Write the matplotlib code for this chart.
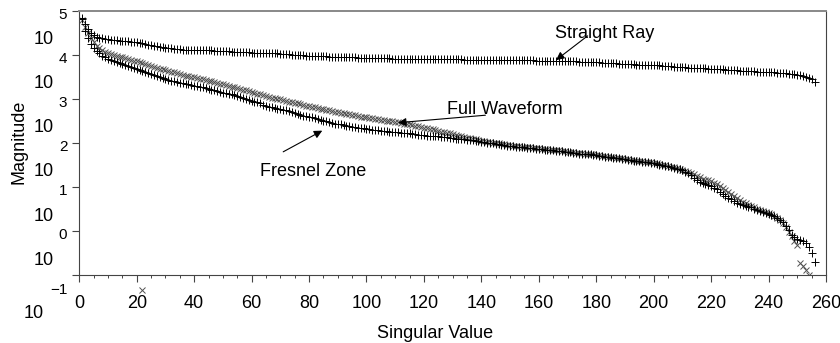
import numpy as np
import matplotlib
matplotlib.use('Agg')
import matplotlib.pyplot as plt
from matplotlib.ticker import MultipleLocator, NullLocator

plt.rcParams['font.family'] = ['Liberation Sans', 'DejaVu Sans']

# log10 of the singular values, index 1..N
straight_ray = [
    4.84, 4.70, 4.58, 4.50, 4.44, 4.41, 4.39, 4.37, 4.36, 4.35,
    4.34, 4.34, 4.33, 4.32, 4.32, 4.31, 4.31, 4.30, 4.29, 4.28,
    4.27, 4.26, 4.24, 4.23, 4.22, 4.20, 4.19, 4.18, 4.17, 4.16,
    4.15, 4.15, 4.14, 4.13, 4.13, 4.12, 4.12, 4.12, 4.11, 4.11,
    4.11, 4.11, 4.11, 4.10, 4.10, 4.10, 4.09, 4.09, 4.09, 4.08,
    4.08, 4.08, 4.07, 4.07, 4.07, 4.06, 4.06, 4.06, 4.06, 4.05,
    4.05, 4.05, 4.05, 4.04, 4.04, 4.04, 4.04, 4.03, 4.03, 4.02,
    4.02, 4.01, 4.01, 4.00, 4.00, 3.99, 3.99, 3.99, 3.98, 3.98,
    3.98, 3.98, 3.97, 3.97, 3.97, 3.97, 3.96, 3.96, 3.96, 3.95,
    3.95, 3.95, 3.94, 3.94, 3.94, 3.94, 3.93, 3.93, 3.93, 3.93,
    3.93, 3.92, 3.92, 3.92, 3.92, 3.92, 3.92, 3.92, 3.91, 3.91,
    3.91, 3.91, 3.91, 3.91, 3.91, 3.91, 3.91, 3.91, 3.91, 3.91,
    3.91, 3.90, 3.90, 3.90, 3.90, 3.90, 3.90, 3.90, 3.90, 3.90,
    3.90, 3.90, 3.90, 3.89, 3.89, 3.89, 3.89, 3.89, 3.89, 3.89,
    3.89, 3.89, 3.89, 3.89, 3.89, 3.88, 3.88, 3.88, 3.88, 3.88,
    3.88, 3.88, 3.88, 3.88, 3.88, 3.88, 3.88, 3.88, 3.87, 3.87,
    3.87, 3.87, 3.87, 3.87, 3.86, 3.86, 3.86, 3.86, 3.85, 3.85,
    3.85, 3.85, 3.85, 3.84, 3.84, 3.84, 3.84, 3.83, 3.83, 3.83,
    3.83, 3.82, 3.82, 3.82, 3.81, 3.81, 3.81, 3.80, 3.80, 3.80,
    3.79, 3.79, 3.79, 3.78, 3.78, 3.78, 3.78, 3.77, 3.77, 3.77,
    3.76, 3.76, 3.75, 3.75, 3.74, 3.74, 3.73, 3.73, 3.72, 3.72,
    3.72, 3.71, 3.71, 3.70, 3.70, 3.70, 3.69, 3.69, 3.68, 3.68,
    3.68, 3.67, 3.67, 3.67, 3.66, 3.66, 3.65, 3.65, 3.65, 3.64,
    3.64, 3.64, 3.63, 3.63, 3.63, 3.62, 3.62, 3.61, 3.61, 3.60,
    3.60, 3.60, 3.59, 3.59, 3.58, 3.58, 3.57, 3.57, 3.56, 3.55,
    3.54, 3.52, 3.50, 3.47, 3.44, 3.39,
]

full_waveform = [
    4.80, 4.62, 4.50, 4.38, 4.28, 4.20, 4.15, 4.11, 4.07, 4.04,
    4.02, 4.00, 3.98, 3.96, 3.94, 3.92, 3.90, 3.89, 3.87, 3.85,
    3.83, 3.81, 3.79, 3.77, 3.74, 3.72, 3.70, 3.68, 3.67, 3.65,
    3.63, 3.61, 3.60, 3.58, 3.56, 3.55, 3.53, 3.52, 3.50, 3.49,
    3.47, 3.46, 3.45, 3.43, 3.41, 3.40, 3.38, 3.36, 3.34, 3.33,
    3.31, 3.30, 3.28, 3.27, 3.25, 3.23, 3.21, 3.20, 3.18, 3.16,
    3.14, 3.12, 3.10, 3.08, 3.07, 3.05, 3.03, 3.02, 3.00, 2.99,
    2.97, 2.96, 2.94, 2.93, 2.91, 2.90, 2.88, 2.87, 2.85, 2.84,
    2.82, 2.81, 2.79, 2.78, 2.77, 2.75, 2.74, 2.72, 2.71, 2.70,
    2.69, 2.67, 2.66, 2.65, 2.64, 2.63, 2.62, 2.60, 2.59, 2.58,
    2.57, 2.56, 2.55, 2.54, 2.53, 2.52, 2.51, 2.50, 2.49, 2.48,
    2.47, 2.46, 2.44, 2.43, 2.42, 2.40, 2.39, 2.38, 2.36, 2.35,
    2.34, 2.32, 2.31, 2.29, 2.28, 2.26, 2.25, 2.23, 2.22, 2.20,
    2.18, 2.17, 2.15, 2.14, 2.12, 2.11, 2.09, 2.08, 2.06, 2.05,
    2.04, 2.03, 2.02, 2.01, 2.00, 1.99, 1.98, 1.97, 1.96, 1.95,
    1.94, 1.93, 1.93, 1.92, 1.91, 1.91, 1.90, 1.89, 1.88, 1.88,
    1.87, 1.86, 1.86, 1.85, 1.84, 1.83, 1.83, 1.82, 1.81, 1.80,
    1.80, 1.79, 1.78, 1.78, 1.77, 1.76, 1.75, 1.75, 1.74, 1.73,
    1.72, 1.71, 1.70, 1.69, 1.69, 1.68, 1.67, 1.66, 1.65, 1.64,
    1.63, 1.62, 1.61, 1.60, 1.60, 1.59, 1.58, 1.57, 1.56, 1.55,
    1.54, 1.52, 1.51, 1.49, 1.48, 1.46, 1.45, 1.43, 1.41, 1.39,
    1.37, 1.35, 1.32, 1.29, 1.25, 1.22, 1.19, 1.17, 1.15, 1.13,
    1.10, 1.07, 1.03, 0.99, 0.94, 0.89, 0.85, 0.80, 0.75, 0.70,
    0.66, 0.63, 0.60, 0.57, 0.54, 0.51, 0.48, 0.46, 0.43, 0.41,
    0.38, 0.35, 0.31, 0.26, 0.18, 0.10, -0.02, -0.12, -0.22, -0.31,
    -0.73, -0.80, -0.88, -0.99,
]

fresnel_zone = [
    4.82, 4.55, 4.38, 4.25, 4.15, 4.08, 4.03, 3.98, 3.94, 3.90,
    3.88, 3.86, 3.84, 3.82, 3.79, 3.77, 3.75, 3.73, 3.70, 3.68,
    3.66, 3.63, 3.61, 3.58, 3.56, 3.54, 3.52, 3.49, 3.47, 3.45,
    3.43, 3.41, 3.40, 3.38, 3.37, 3.35, 3.34, 3.33, 3.31, 3.30,
    3.29, 3.28, 3.27, 3.25, 3.23, 3.21, 3.20, 3.18, 3.16, 3.14,
    3.13, 3.11, 3.10, 3.08, 3.06, 3.04, 3.02, 3.00, 2.98, 2.96,
    2.94, 2.92, 2.90, 2.87, 2.85, 2.82, 2.81, 2.79, 2.78, 2.76,
    2.75, 2.74, 2.72, 2.70, 2.68, 2.66, 2.64, 2.62, 2.61, 2.59,
    2.58, 2.56, 2.54, 2.52, 2.51, 2.49, 2.47, 2.46, 2.44, 2.43,
    2.42, 2.40, 2.39, 2.38, 2.37, 2.36, 2.35, 2.34, 2.33, 2.32,
    2.31, 2.30, 2.30, 2.29, 2.28, 2.28, 2.27, 2.26, 2.25, 2.25,
    2.24, 2.23, 2.23, 2.22, 2.22, 2.21, 2.20, 2.19, 2.19, 2.18,
    2.17, 2.17, 2.16, 2.15, 2.15, 2.14, 2.13, 2.13, 2.12, 2.11,
    2.10, 2.10, 2.09, 2.08, 2.07, 2.07, 2.06, 2.05, 2.04, 2.03,
    2.02, 2.01, 2.00, 1.99, 1.98, 1.97, 1.96, 1.95, 1.94, 1.93,
    1.93, 1.92, 1.91, 1.91, 1.90, 1.89, 1.88, 1.88, 1.87, 1.86,
    1.86, 1.85, 1.84, 1.84, 1.83, 1.82, 1.81, 1.81, 1.80, 1.79,
    1.79, 1.78, 1.77, 1.76, 1.76, 1.75, 1.74, 1.74, 1.73, 1.72,
    1.71, 1.70, 1.69, 1.69, 1.68, 1.67, 1.66, 1.65, 1.64, 1.63,
    1.62, 1.61, 1.60, 1.60, 1.59, 1.58, 1.57, 1.56, 1.55, 1.54,
    1.53, 1.51, 1.50, 1.48, 1.47, 1.45, 1.44, 1.42, 1.40, 1.38,
    1.35, 1.31, 1.27, 1.21, 1.16, 1.12, 1.09, 1.07, 1.05, 1.02,
    0.99, 0.95, 0.90, 0.85, 0.80, 0.76, 0.72, 0.68, 0.65, 0.62,
    0.60, 0.58, 0.56, 0.54, 0.51, 0.49, 0.46, 0.44, 0.42, 0.40,
    0.37, 0.34, 0.31, 0.26, 0.20, 0.12, 0.02, -0.08, -0.13, -0.17,
    -0.20, -0.23, -0.26, -0.35, -0.50, -0.70,
]

# lone full-waveform point that lands below the axis
stray_index = [22]
stray_value = [-1.33]

decades = [5, 4, 3, 2, 1, 0, -1]
xticks = list(range(0, 261, 20))


def idx(vals):
    return np.arange(1, len(vals) + 1)


fig = plt.figure(figsize=(8.4, 3.43), dpi=100)
ax = fig.add_axes([79.3 / 840, 1 - 275.3 / 343, (826 - 79.3) / 840, (275.3 - 10.7) / 343])

ax.plot(idx(full_waveform), np.power(10.0, full_waveform), ls='none', marker='x',
        ms=4.5, mew=0.7, color='#505050')
ax.plot(stray_index, np.power(10.0, stray_value), ls='none', marker='x',
        ms=4.5, mew=0.7, color='#505050', clip_on=False)
ax.plot(idx(fresnel_zone), np.power(10.0, fresnel_zone), ls='none', marker='+',
        ms=5.5, mew=0.7, color='black')
ax.plot(idx(straight_ray), np.power(10.0, straight_ray), ls='none', marker='+',
        ms=5.5, mew=0.7, color='black')

ax.set_yscale('log')
ax.set_xlim(0, 260)
ax.set_ylim(10.0 ** -1, 10.0 ** 5)

ax.set_xticks(xticks)
ax.xaxis.set_minor_locator(MultipleLocator(5))
ax.set_yticks([10.0 ** k for k in decades])
ax.yaxis.set_minor_locator(NullLocator())
ax.tick_params(axis='x', which='major', length=5, width=0.8, color='#444',
               labelsize=13, pad=9)
ax.tick_params(axis='x', which='minor', length=2.5, width=0.7, color='#444')
ax.tick_params(axis='y', which='major', length=5, width=0.8, color='#444',
               labelleft=False)

for side in ['left', 'bottom', 'right']:
    ax.spines[side].set_color('#444')
    ax.spines[side].set_linewidth(0.8)
ax.spines['top'].set_color('#888')
ax.spines['top'].set_linewidth(1.4)

# broken "10^k" labels: exponent beside the tick, base below it
for k in decades:
    dy_exp = -15 if k == -1 else -4
    dy_base = -38 if k == -1 else -29
    dx_base = -36 if k == -1 else -26
    ax.annotate(str(k).replace('-', '\u2212'), xy=(0, 10.0 ** k),
                xycoords=('axes fraction', 'data'), xytext=(-12, dy_exp),
                textcoords='offset pixels', ha='right', va='center',
                fontsize=11, annotation_clip=False)
    ax.annotate('10', xy=(0, 10.0 ** k), xycoords=('axes fraction', 'data'),
                xytext=(dx_base, dy_base), textcoords='offset pixels',
                ha='right', va='center', fontsize=13, annotation_clip=False)

arrow = dict(arrowstyle='-|>', color='black', lw=0.8, shrinkA=0, shrinkB=0,
             mutation_scale=12)

ax.text(165.7, 10 ** 4.49, 'Straight Ray', ha='left', va='center', fontsize=13)
ax.annotate('', xy=(166, 10 ** 3.88), xytext=(177, 10 ** 4.43), arrowprops=arrow)

ax.text(128.1, 10 ** 2.77, 'Full Waveform', ha='left', va='center', fontsize=13)
ax.annotate('', xy=(111, 10 ** 2.46), xytext=(141.4, 10 ** 2.63), arrowprops=arrow)

ax.text(62.9, 10 ** 1.365, 'Fresnel Zone', ha='left', va='center', fontsize=13)
ax.annotate('', xy=(84.6, 10 ** 2.28), xytext=(71.0, 10 ** 1.80), arrowprops=arrow)

fig.text(19 / 840, 1 - 142 / 343, 'Magnitude', rotation=90, ha='center',
         va='center', fontsize=13)
fig.text(377 / 840, 1 - 333 / 343, 'Singular Value', ha='left', va='center',
         fontsize=13)

fig.savefig('out.png', dpi=100)
